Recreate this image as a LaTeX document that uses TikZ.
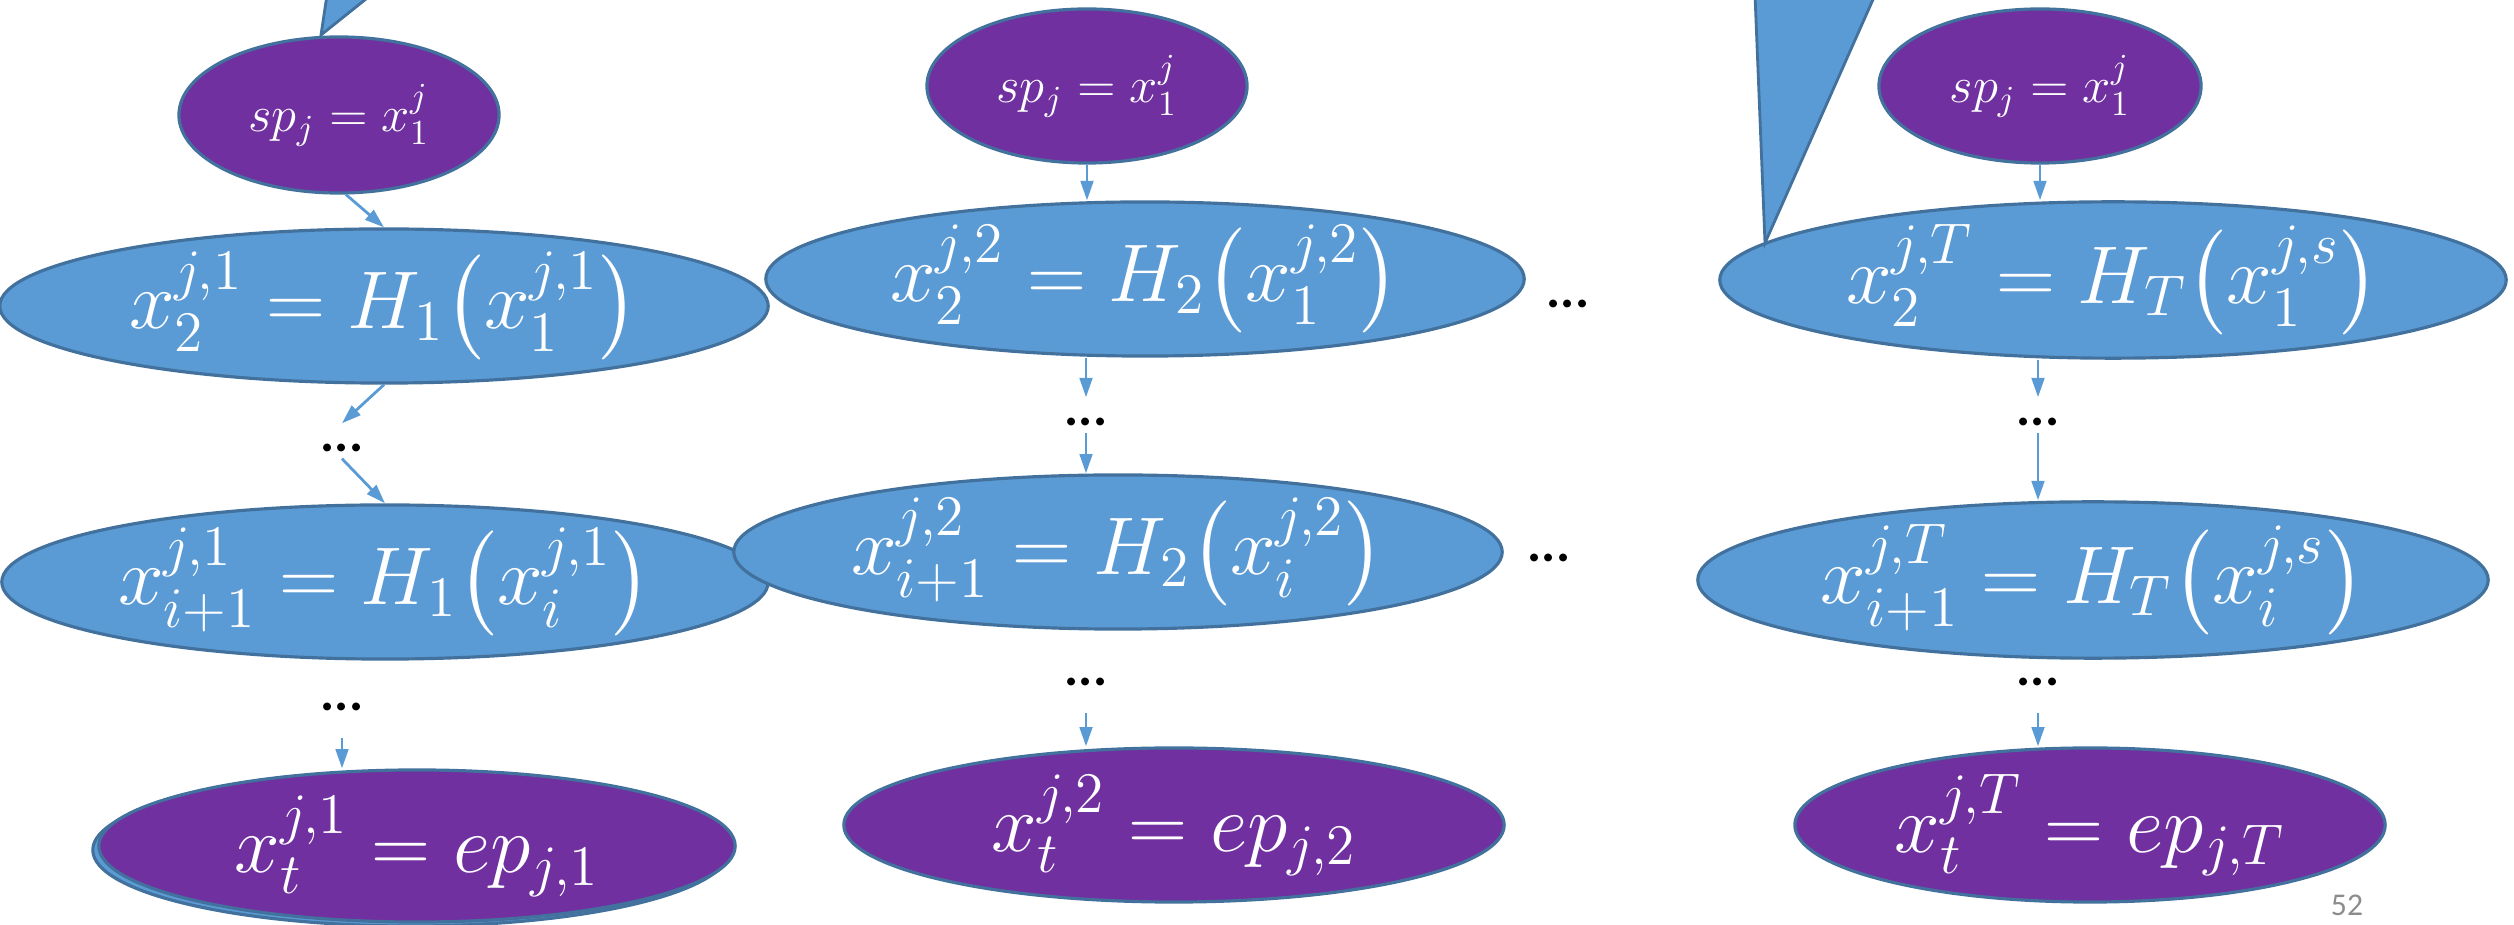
\RequirePackage{fix-cm}
\documentclass[tikz,border=0pt]{standalone}
\usepackage{amsmath}
\usepackage{fontspec}
\newfontfamily\slidefont{Carlito}
\usetikzlibrary{arrows.meta,shapes.geometric,calc}
\definecolor{nodeblue}{HTML}{5B9BD5}
\definecolor{nodeline}{HTML}{41719C}
\definecolor{nodepurple}{HTML}{7030A0}
\definecolor{pagegray}{HTML}{8C8C8C}

\begin{document}
\begin{tikzpicture}[x=0.01cm, y=-0.01cm,
  blob/.style={ellipse, draw=nodeline, line width=0.9pt, inner sep=0pt, text=white},
  hop/.style={blob, fill=nodeblue, font=\fontsize{23.3}{28}\selectfont},
  endp/.style={blob, fill=nodepurple, font=\fontsize{23.3}{28}\selectfont},
  startp/.style={blob, fill=nodepurple, font=\fontsize{14.4}{17}\selectfont},
  more/.style={font=\slidefont\bfseries\fontsize{15}{18}\selectfont, inner sep=0pt,
    text height=0.28cm, text depth=0.06cm, anchor=base},
  link/.style={draw=nodeblue, line width=0.8pt, -{Triangle[length=5.5pt,width=3.6pt]}},
  callout/.style={fill=nodeblue, draw=nodeline, line width=0.8pt}]
  \useasboundingbox (0,0) rectangle (2514,925);

  % first trajectory
  \node[startp, minimum width=3.2cm, minimum height=1.56cm] (s1) at (339,115) {$sp_j = x_1^j$};
  \node[hop, minimum width=7.68cm, minimum height=1.54cm] (a1) at (384,306)
    {$x_2^{j,1} = H_1\bigl(x_1^{j,1}\bigr)$};
  \node[more] (d1a) at (342,452) {...};
  \node[hop, minimum width=7.66cm, minimum height=1.53cm] (b1) at (385,582)
    {$x_{i+1}^{j,1} = H_1\bigl(x_i^{j,1}\bigr)$};
  \node[more] (d1b) at (342,711) {...};
  \draw[fill=nodeblue, draw=nodeline, line width=0.9pt] (411,850) ellipse [x radius=3.18cm, y radius=0.76cm];
  \node[endp, minimum width=6.36cm, minimum height=1.52cm] (e1) at (417,846) {$x_t^{j,1} = ep_{j,1}$};

  % second trajectory
  \node[startp, minimum width=3.2cm, minimum height=1.54cm] (s2) at (1087,86) {$sp_j = x_1^j$};
  \node[hop, minimum width=7.58cm, minimum height=1.54cm] (a2) at (1145,279)
    {$x_2^{j,2} = H_2\bigl(x_1^{j,2}\bigr)$};
  \node[more] (d2a) at (1086,426) {...};
  \node[hop, minimum width=7.68cm, minimum height=1.54cm] (b2) at (1118,552)
    {$x_{i+1}^{j,2} = H_2\bigl(x_i^{j,2}\bigr)$};
  \node[more] (d2b) at (1086,686) {...};
  \node[endp, minimum width=6.6cm, minimum height=1.54cm] (e2) at (1174,825) {$x_t^{j,2} = ep_{j,2}$};

  \node[more] (m1) at (1568,308) {...};
  \node[more] (m2) at (1549,562) {...};

  % last trajectory
  \node[startp, minimum width=3.22cm, minimum height=1.54cm] (s3) at (2040,86) {$sp_j = x_1^j$};
  \node[hop, minimum width=7.86cm, minimum height=1.54cm] (a3) at (2113,280)
    {$x_2^{j,T} = H_T\bigl(x_1^{j,s}\bigr)$};
  \node[more] (d3a) at (2038,426) {...};
  \node[hop, minimum width=7.9cm, minimum height=1.54cm] (b3) at (2093,580)
    {$x_{i+1}^{j,T} = H_T\bigl(x_i^{j,s}\bigr)$};
  \node[more] (d3b) at (2038,686) {...};
  \node[endp, minimum width=5.9cm, minimum height=1.54cm] (e3) at (2090,825) {$x_t^{j,T} = ep_{j,T}$};

  % callout pointers
  \draw[callout] (327,-5) -- (321,35) -- (371,-5) -- cycle;
  \draw[callout] (1755,-5) -- (1765,243) -- (1875,-5) -- cycle;

  \draw[link] (s1.-85) -- (a1.north);
  \draw[link] (a1.south) -- (d1a.north);
  \draw[link] (d1a.south) -- (b1.north);
  \draw[link, shorten <=0.2cm] (d1b.south) -- (d1b.south |- e1.north);
  \foreach \c in {2,3}{
    \draw[link] (s\c.south) -- (s\c.south |- a\c.north);
    \draw[link] (d\c a |- a\c.south) -- (d\c a.north);
    \draw[link] (d\c a.south) -- (d\c a |- b\c.north);
    \draw[link, shorten <=0.2cm] (d\c b.south) -- (d\c b.south |- e\c.north);
  }

  \node[font=\slidefont\fontsize{9}{11}\selectfont, text=pagegray] (pg) at (2347,905) {52};
\end{tikzpicture}
\end{document}
